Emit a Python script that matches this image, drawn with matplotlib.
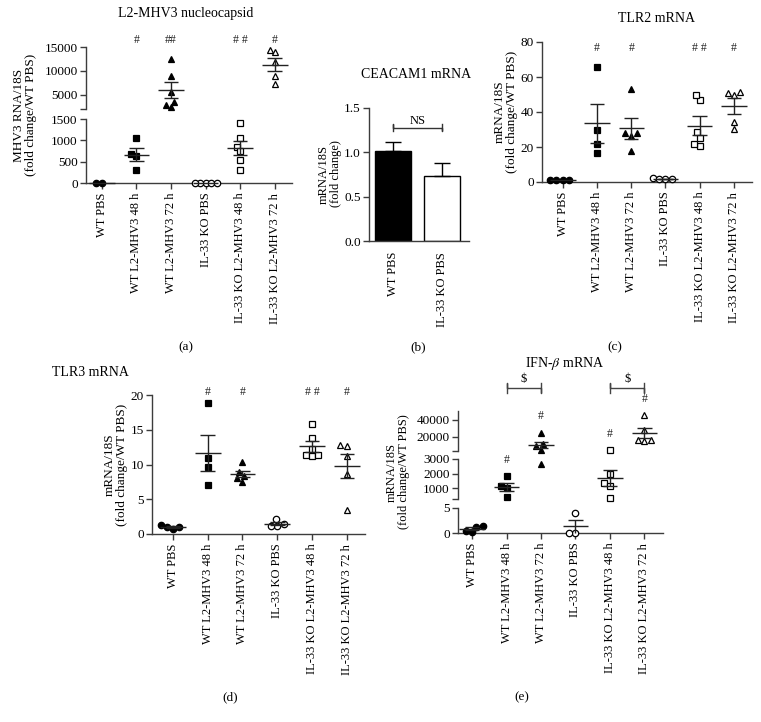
import matplotlib
matplotlib.use("Agg")
import matplotlib.pyplot as plt
import matplotlib.transforms as mtransforms
import numpy as np

W, H = 761, 722
plt.rcParams['font.family'] = ['Liberation Serif', 'DejaVu Serif']
plt.rcParams['mathtext.fontset'] = 'stix'

groups = ["WT PBS", "WT L2-MHV3 48 h", "WT L2-MHV3 72 h",
          "IL-33 KO PBS", "IL-33 KO L2-MHV3 48 h", "IL-33 KO L2-MHV3 72 h"]
markers = ['o', 's', '^', 'o', 's', '^']
filled = [True, True, True, False, False, False]

# (a) L2-MHV3 nucleocapsid
mhv3 = [[0, 0],
        [1050, 680, 630, 300],
        [12500, 9000, 5500, 3500, 2500, 2800],
        [0, 0, 0, 0, 0],
        [1400, 1050, 850, 750, 550, 300],
        [14400, 13900, 11900, 9000, 7300]]
mhv3_sig = ["", "#", "##", "", "# #", "#"]

# (b) CEACAM1 mRNA
ceacam_groups = ["WT PBS", "IL-33 KO PBS"]
ceacam_mean = [1.02, 0.73]
ceacam_sem = [0.10, 0.15]

# (c) TLR2 mRNA
tlr2 = [[1.2, 1.2, 1.2, 1.2],
        [66, 30, 22, 16.5],
        [53, 28, 26.5, 28, 17.5],
        [2.2, 1.5, 1.5, 2.0],
        [47, 50, 28.5, 25, 20.5, 22],
        [51, 50, 51.5, 30.5, 34.5]]
tlr2_sig = ["", "#", "#", "", "# #", "#"]

# (d) TLR3 mRNA
tlr3 = [[1.0, 0.75, 1.35, 1.0],
        [18.9, 11.0, 9.6, 7.0],
        [10.4, 8.9, 8.4, 8.0, 7.5],
        [1.4, 1.2, 2.1, 1.2],
        [15.8, 13.8, 12.2, 11.3, 11.2, 11.4],
        [12.8, 12.7, 11.2, 8.7, 3.4]]
tlr3_sig = ["", "#", "#", "", "# #", "#"]

# (e) IFN-beta mRNA
ifnb = [[1.2, 0.2, 1.4, 0.5],
        [1800, 1160, 1000, 380],
        [24400, 8400, 4100, 11300, 2670],
        [4.0, 0.0, 0.0],
        [3600, 2000, 1360, 1170, 320],
        [45000, 28000, 16000, 14500, 16000]]
ifnb_sig = ["", "#", "#", "", "#", "#"]
ifnb_pairs = [(1, 2), (4, 5)]

AX = '#3c3c3c'
FS = 9.5
fig = plt.figure(figsize=(W / 100, H / 100), dpi=100)


def axes_px(x0, y0, x1, y1):
    return fig.add_axes([x0 / W, 1 - y1 / H, (x1 - x0) / W, (y1 - y0) / H])


def style(ax, bottom):
    ax.patch.set_alpha(0)
    ax.spines['top'].set_visible(False)
    ax.spines['right'].set_visible(False)
    ax.spines['left'].set_color(AX)
    ax.spines['left'].set_linewidth(1)
    ax.tick_params(axis='y', direction='out', length=4, width=1, color=AX,
                   labelsize=FS, pad=2)
    if bottom:
        ax.spines['bottom'].set_color(AX)
        ax.spines['bottom'].set_linewidth(1)
        ax.tick_params(axis='x', direction='out', length=4, width=1, color=AX,
                       labelsize=FS - 0.5, pad=3)
    else:
        ax.spines['bottom'].set_visible(False)
        ax.tick_params(axis='x', bottom=False, labelbottom=False)


def broken(x0, x1, xlim, segs, fmt="{:g}"):
    axs = []
    for i, (top, bot, ylim, ticks) in enumerate(segs):
        ax = axes_px(x0, top, x1, bot)
        ax.set_xlim(xlim)
        ax.set_ylim(ylim)
        ax.set_yticks(ticks)
        ax.set_yticklabels([fmt.format(t) for t in ticks])
        if ylim[0] not in ticks and i < len(segs) - 1:
            ax.set_yticks([ylim[0]], minor=True)
            ax.tick_params(axis='y', which='minor', length=4, width=1, color=AX)
        style(ax, i == len(segs) - 1)
        axs.append(ax)
    return axs


def pick(axs, v):
    for k, ax in enumerate(axs):
        lo, hi = ax.get_ylim()
        if v >= lo or k == len(axs) - 1:
            return k
    return len(axs) - 1


def swarm(ys, d):
    xs = np.zeros(len(ys))
    done = []
    for i in np.argsort(ys, kind='stable'):
        bad = []
        for j in done:
            dy = abs(ys[i] - ys[j])
            if dy < d:
                w = np.sqrt(d * d - dy * dy)
                bad.append((xs[j] - w, xs[j] + w))
        cands = sorted([0.0] + [b[0] for b in bad] + [b[1] for b in bad], key=abs)
        for c in cands:
            if all(not (lo + 1e-6 < c < hi - 1e-6) for lo, hi in bad):
                xs[i] = c
                break
        done.append(i)
    return xs


def dot_plot(axs, values, ms=4.6, d=6.5):
    for g, vals in enumerate(values):
        ks = [pick(axs, v) for v in vals]
        ys = np.array([axs[k].transData.transform((0, v))[1] for k, v in zip(ks, vals)])
        xs = swarm(ys, d)
        for v, k, xo in zip(vals, ks, xs):
            ax = axs[k]
            ppu = ax.bbox.width / (ax.get_xlim()[1] - ax.get_xlim()[0])
            ax.plot(g + xo / ppu, v, ls='none', marker=markers[g], ms=ms,
                    mfc='black' if filled[g] else 'white', mec='black', mew=0.9,
                    clip_on=False, zorder=3)
        m = np.mean(vals)
        se = np.std(vals, ddof=1) / np.sqrt(len(vals))
        ax = axs[pick(axs, m)]
        kw = dict(color='#222222', lw=1, zorder=4, clip_on=False)
        ax.hlines(m, g - 0.37, g + 0.37, **kw)
        if se > 0:
            ax.vlines(g, max(m - se, ax.get_ylim()[0]), m + se, **kw)
            ax.hlines([m + se], g - 0.21, g + 0.21, **kw)
            if m - se >= ax.get_ylim()[0]:
                ax.hlines([m - se], g - 0.21, g + 0.21, **kw)


def xlabels(ax, labels):
    ax.set_xticks(range(len(labels)))
    ax.set_xticklabels(labels, rotation=90, va='top', ha='center')


def sig_row(ax, sigs, ypx):
    tr = mtransforms.blended_transform_factory(ax.transData, fig.transFigure)
    for g, s in enumerate(sigs):
        if s:
            ax.text(g, 1 - ypx / H, s, transform=tr, ha='center', va='center',
                    fontsize=8.5, color='#222222')


def ftext(x, y, s, **kw):
    kw.setdefault('fontsize', FS)
    fig.text(x / W, 1 - y / H, s, ha='center', va='center', **kw)


# ---------- (a) ----------
a_axs = broken(86, 292, (-0.46, 5.5),
               [(47, 109, (2000, 15000), [5000, 10000, 15000]),
                (119, 183, (0, 1500), [0, 500, 1000, 1500])])
dot_plot(a_axs, mhv3, d=5.5)
xlabels(a_axs[-1], groups)
sig_row(a_axs[0], mhv3_sig, 40)
ftext(186, 14, "L2-MHV3 nucleocapsid", fontsize=10)
ftext(25, 115, "MHV3 RNA/18S\n(fold change/WT PBS)", rotation=90, linespacing=1.1)
ftext(186, 347, "(a)")

# ---------- (b) ----------
ax_b = axes_px(369, 108, 469, 241)
ax_b.set_xlim(-0.49, 1.55)
ax_b.set_ylim(0, 1.5)
ax_b.set_yticks([0, 0.5, 1.0, 1.5])
ax_b.set_yticklabels(["0.0", "0.5", "1.0", "1.5"])
style(ax_b, True)
ax_b.bar(range(2), ceacam_mean, width=0.72, color=['black', 'white'],
         edgecolor='black', linewidth=1, zorder=2)
ax_b.errorbar(range(2), ceacam_mean, yerr=[[0, 0], ceacam_sem], fmt='none',
              ecolor='black', elinewidth=1, capsize=6, capthick=1, zorder=3)
ax_b.plot([0, 0, 0, 1, 1, 1], [1.245, 1.315, 1.28, 1.28, 1.245, 1.315],
          color='#333333', lw=1, clip_on=False)
ax_b.text(0.5, 1.355, "NS", ha='center', va='center', fontsize=FS - 0.5)
ax_b.set_xticks(range(2))
ax_b.set_xticklabels(ceacam_groups, rotation=90, va='top', ha='center')
ax_b.tick_params(axis='x', length=0, pad=8)
ftext(416, 75, "CEACAM1 mRNA", fontsize=10)
ftext(330, 174, "mRNA/18S\n(fold change)", rotation=90, linespacing=1.0,
      fontsize=9)
ftext(418, 347, "(b)")

# ---------- (c) ----------
c_axs = broken(542, 752, (-0.61, 5.53), [(42, 182, (0, 80), [0, 20, 40, 60, 80])])
dot_plot(c_axs, tlr2)
xlabels(c_axs[-1], groups)
sig_row(c_axs[0], tlr2_sig, 48)
ftext(657, 18, "TLR2 mRNA", fontsize=10)
ftext(506, 112, "mRNA/18S\n(fold change/WT PBS)", rotation=90, linespacing=1.1)
ftext(615, 347, "(c)")

# ---------- (d) ----------
d_axs = broken(152, 365, (-0.6, 5.52), [(395, 534, (0, 20), [0, 5, 10, 15, 20])])
dot_plot(d_axs, tlr3)
xlabels(d_axs[-1], groups)
sig_row(d_axs[0], tlr3_sig, 392)
ftext(90, 373, "TLR3 mRNA", fontsize=10)
ftext(116, 465, "mRNA/18S\n(fold change/WT PBS)", rotation=90, linespacing=1.1)
ftext(230, 697, "(d)")

# ---------- (e) ----------
e_axs = broken(458, 663, (-0.41, 5.54),
               [(411, 451, (3000, 50000), [20000, 40000]),
                (459, 499, (250, 3000), [1000, 2000, 3000]),
                (508, 533, (0, 5), [0, 5])])
dot_plot(e_axs, ifnb)
xlabels(e_axs[-1], groups)
for g, s in enumerate(ifnb_sig):
    if s:
        top = max(ifnb[g])
        ax = e_axs[pick(e_axs, top)]
        ax.annotate(s, xy=(g, top), xytext=(0, 12), textcoords='offset points',
                    ha='center', va='center', fontsize=8.5, color='#222222',
                    annotation_clip=False)
tr_e = mtransforms.blended_transform_factory(e_axs[0].transData, fig.transFigure)
for g0, g1 in ifnb_pairs:
    yb = 1 - 388 / H
    dy = 5 / H
    e_axs[0].plot([g0, g0, g0, g1, g1, g1], [yb - dy, yb + dy, yb, yb, yb - dy, yb + dy],
                  transform=tr_e, color='#444444', lw=1, clip_on=False)
    e_axs[0].text((g0 + g1) / 2, 1 - 379 / H, "$", transform=tr_e, ha='center',
                  va='center', fontsize=9)
ftext(565, 364, "IFN-$\\beta$ mRNA", fontsize=10)
ftext(398, 472, "mRNA/18S\n(fold change/WT PBS)", rotation=90, linespacing=1.05,
      fontsize=9)
ftext(522, 697, "(e)")

fig.savefig("out.png", dpi=100)
